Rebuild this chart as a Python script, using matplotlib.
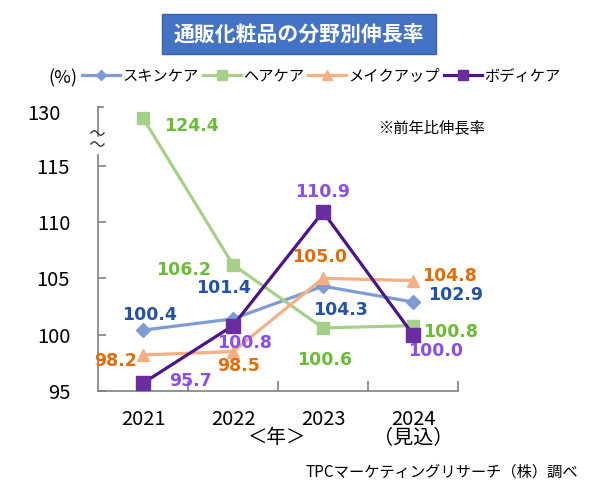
import numpy as np
import matplotlib.pyplot as plt
from matplotlib.patches import Rectangle
from matplotlib.lines import Line2D

plt.rcParams['font.family'] = ['Noto Sans CJK JP', 'DejaVu Sans']

years = ['2021', '2022', '2023', '2024\n（見込）']
series_names = ['スキンケア', 'ヘアケア', 'メイクアップ', 'ボディケア']
skin = [100.4, 101.4, 104.3, 102.9]
hair = [124.4, 106.2, 100.6, 100.8]
makeup = [98.2, 98.5, 105.0, 104.8]
body = [95.7, 100.8, 110.9, 100.0]
ytick_vals = [95, 100, 105, 110, 115]


def ypos(v):
    # broken axis: anything above 115 is squeezed under the "130" tick
    if v <= 115:
        return v
    return 119.0 + (v - 120) * 0.05


line_cols = ['#7F9BD4', '#A6D08A', '#F5AF84', '#4B1587']
label_cols = ['#2352A8', '#6DBB3A', '#E36C09', '#8A4FE8']
markers = ['D', 's', '^', 's']
msizes = [7, 8.5, 9, 9.5]
face_cols = ['#7F9BD4', '#A6D08A', '#F5AF84', '#6A2CA0']
# label offsets in pixels (dx, dy)
offsets = [
    [(6, 15), (-9, 31), (17, -24), (43, 7)],
    [(48, -8), (-49, -5), (2, -32), (38, -6)],
    [(-27, -6), (6, -14), (-3, 21), (37, 5)],
    [(48, 2), (12, -17), (0, 20), (23, -16)],
]

fig = plt.figure(figsize=(6, 4.98), dpi=100)
ax = fig.add_axes([98 / 600, 1 - 391 / 498, 360 / 600, 284 / 498])
ax.set_xlim(-0.5, 3.5)
ax.set_ylim(95, 120.2)

xs = range(len(years))
all_series = [skin, hair, makeup, body]
handles = []
for i, vals in enumerate(all_series):
    ys = [ypos(v) for v in vals]
    h, = ax.plot(xs, ys, color=line_cols[i], lw=2.3, marker=markers[i],
                 ms=msizes[i], mfc=face_cols[i], mec=face_cols[i],
                 label=series_names[i], zorder=3 + (i == 3))
    handles.append(h)
    for j, v in enumerate(vals):
        ax.annotate(f'{v:.1f}', (j, ys[j]), xytext=offsets[i][j],
                    textcoords='offset pixels', ha='center', va='center',
                    color=label_cols[i], fontsize=12.5, fontweight='bold',
                    family='DejaVu Sans', zorder=6)

# axes styling
for s in ['top', 'right', 'left']:
    ax.spines[s].set_visible(False)
ax.spines['bottom'].set_color('#808080')
ax.spines['bottom'].set_linewidth(1.2)

ax.set_yticks(ytick_vals)
ax.set_yticklabels([str(v) for v in ytick_vals], fontsize=14.5)
ax.tick_params(axis='y', direction='in', length=6, width=1.2, color='#808080', pad=20)
ax.set_xticks(list(xs))
ax.set_xticklabels(years, fontsize=14.5, linespacing=0.9)
ax.set_xticks([0.5, 1.5, 2.5, 3.5], minor=True)
ax.tick_params(axis='x', which='major', length=0, pad=13)
ax.tick_params(axis='x', which='minor', direction='in', length=7, width=1.2, color='#808080')

# broken y axis
ytr = ax.get_yaxis_transform()
ax.plot([0, 0], [95, 115.9], color='#808080', lw=1.2, transform=ytr, clip_on=False)
ax.plot([0, 0], [117.6, 120.2], color='#808080', lw=1.2, transform=ytr, clip_on=False)
ax.plot([0, 0.015], [120.2, 120.2], color='#808080', lw=1.2, transform=ytr, clip_on=False)
# two little tildes across the gap
t = np.linspace(0, 1, 30)
for yc in [133, 144]:
    px = 91 + 13 * t
    py = yc - 2.2 * np.sin(2 * np.pi * t)
    fig.add_artist(Line2D(px / 600, 1 - py / 498, transform=fig.transFigure,
                          color='#333333', lw=1))
ax.text(-0.105, 119.5, '130', transform=ytr, ha='right', va='center', fontsize=14.5)

fig.text(63 / 600, 1 - 78 / 498, '(%)', ha='center', va='center', fontsize=13)
fig.text(277 / 600, 1 - 437 / 498, '＜年＞', ha='center', va='center', fontsize=14)
fig.text(432 / 600, 1 - 128 / 498, '※前年比伸長率', ha='center', va='center', fontsize=11)
fig.text(578 / 600, 1 - 472 / 498, 'TPCマーケティングリサーチ（株）調べ',
         ha='right', va='center', fontsize=11)

# title box
fig.patches.append(Rectangle((162 / 600, 1 - 54 / 498), 274 / 600, 40 / 498,
                             transform=fig.transFigure, facecolor='#4472C4',
                             edgecolor='#3A62AA', lw=1))
fig.text(299 / 600, 1 - 34 / 498, '通販化粧品の分野別伸長率', ha='center', va='center',
         fontsize=15, fontweight='bold', color='white')

fig.legend(handles=handles, loc='center left', bbox_to_anchor=(82 / 600, 1 - 76 / 498),
           ncol=4, frameon=False, fontsize=11, handlelength=2.5, handletextpad=0.15,
           columnspacing=0.25, borderaxespad=0, borderpad=0, markerscale=0.8)

fig.savefig('out.png', dpi=100)
